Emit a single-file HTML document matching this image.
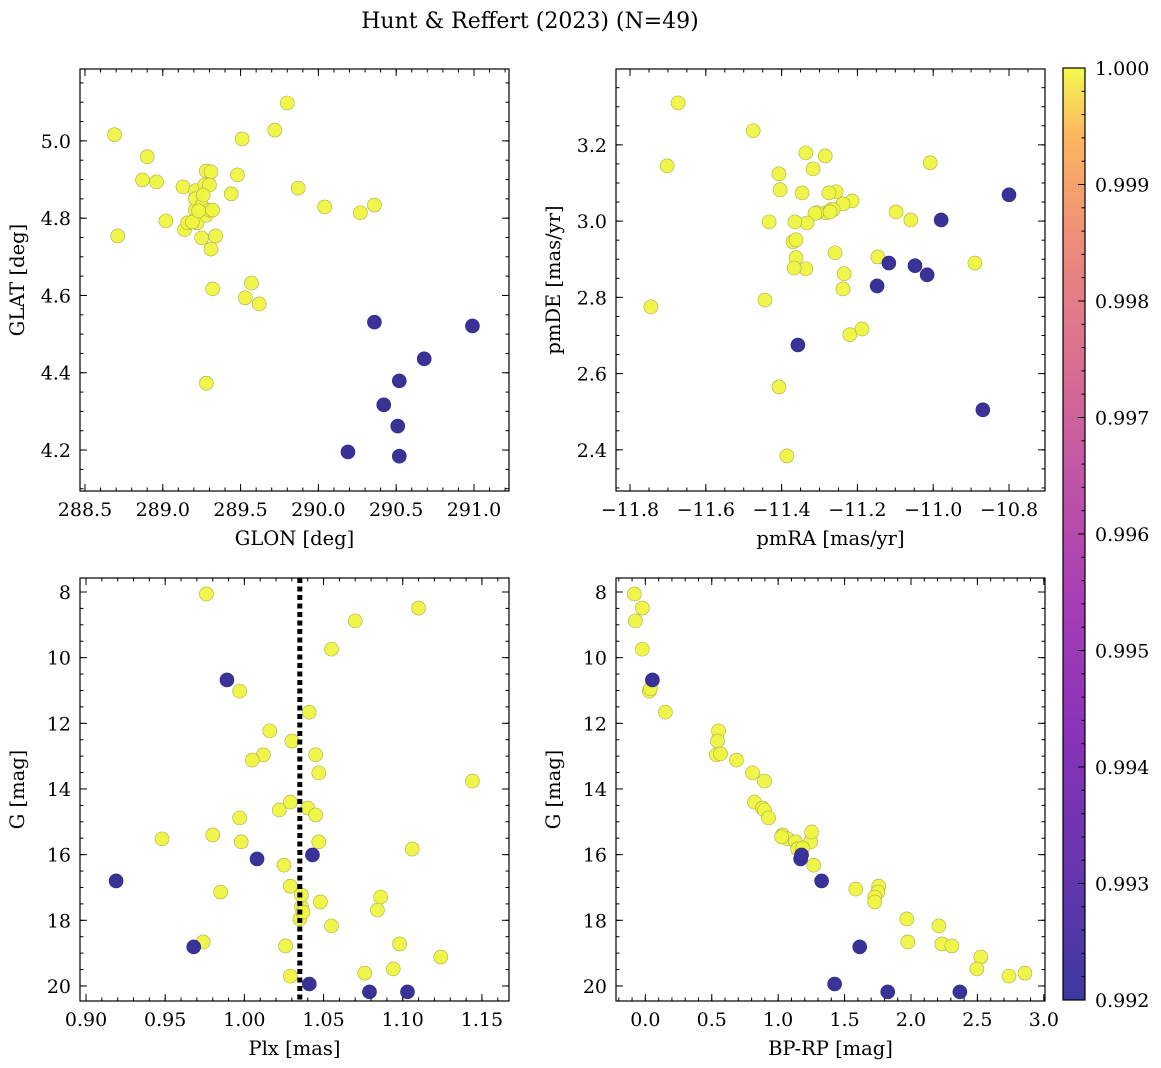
<!DOCTYPE html>
<html><head><meta charset="utf-8"><style>
html,body{margin:0;padding:0;background:#fff;}
svg{display:block;font-family:"DejaVu Serif","Liberation Serif",serif;}
</style></head><body>
<svg id="fig" width="1161" height="1068" viewBox="0 0 1161 1068" xmlns="http://www.w3.org/2000/svg">
<defs>
<linearGradient id="plasma" x1="0" y1="1" x2="0" y2="0">
<stop offset="0" stop-color="#0d0887"/><stop offset="0.14" stop-color="#41049d"/><stop offset="0.28" stop-color="#6a00a8"/><stop offset="0.42" stop-color="#8f0da4"/><stop offset="0.56" stop-color="#b12a90"/><stop offset="0.67" stop-color="#cc4778"/><stop offset="0.78" stop-color="#e16462"/><stop offset="0.86" stop-color="#f2844b"/><stop offset="0.93" stop-color="#fca636"/><stop offset="1" stop-color="#f0f921"/>
</linearGradient>
</defs>
<text x="530" y="28" font-size="22" text-anchor="middle">Hunt &amp; Reffert (2023) (N=49)</text>
</svg>
<script>
// ---- Data ----
const glonMember = [288.69,288.90,288.87,288.96,289.13,289.21,289.28,289.31,289.27,289.30,289.48,289.44,289.02,289.14,289.16,289.21,289.21,289.22,289.25,289.28,289.30,289.25,289.31,289.34,288.71,289.80,289.72,289.51,289.87,290.04,290.27,290.36,289.57,289.53,289.62,289.32,289.28,289.19,289.26,289.32,289.23];
const glatMember = [5.016,4.959,4.899,4.894,4.881,4.871,4.922,4.920,4.886,4.886,4.912,4.863,4.793,4.770,4.788,4.821,4.850,4.788,4.832,4.808,4.821,4.749,4.720,4.754,4.754,5.098,5.028,5.005,4.878,4.829,4.814,4.834,4.632,4.594,4.578,4.617,4.373,4.790,4.860,4.821,4.819];
const glonLow = [290.36,290.99,290.68,290.52,290.42,290.51,290.19,290.52];
const glatLow = [4.531,4.521,4.436,4.379,4.317,4.262,4.195,4.184];

const pmraMember = [-11.673,-11.702,-11.475,-11.407,-11.404,-11.433,-11.336,-11.317,-11.346,-11.285,-11.256,-11.283,-11.307,-11.312,-11.333,-11.365,-11.370,-11.362,-11.336,-11.275,-11.270,-11.214,-11.238,-11.259,-11.235,-11.238,-11.146,-11.098,-11.059,-11.008,-10.890,-11.745,-11.444,-11.407,-11.386,-11.220,-11.188,-11.367,-11.264,-11.272,-11.362];
const pmdeMember = [3.310,3.145,3.237,3.124,3.082,2.998,3.179,3.137,3.074,3.171,3.077,3.022,3.022,3.020,2.995,2.998,2.946,2.904,2.875,3.074,3.030,3.053,3.045,2.917,2.862,2.822,2.906,3.024,3.003,3.153,2.890,2.775,2.793,2.565,2.384,2.702,2.717,2.877,3.030,3.024,2.951];
const pmraLow = [-10.800,-10.979,-11.117,-11.048,-11.016,-11.148,-11.357,-10.869];
const pmdeLow = [3.069,3.003,2.890,2.883,2.859,2.830,2.675,2.505];

const plxMember = [0.976,1.110,1.070,1.055,0.997,1.041,1.016,1.030,1.012,1.005,1.045,1.047,1.144,1.029,1.040,1.022,0.997,1.045,0.998,0.980,0.948,1.047,1.106,1.025,1.029,0.985,1.086,1.048,1.036,1.035,1.055,1.084,0.974,1.098,1.026,1.124,1.094,1.076,1.029,1.036,1.037];
const gPlxMember = [8.06,8.49,8.88,9.74,11.02,11.66,12.23,12.54,12.96,13.12,12.96,13.51,13.76,14.40,14.58,14.64,14.88,14.79,15.61,15.40,15.52,15.61,15.83,16.32,16.96,17.14,17.29,17.44,17.59,17.96,18.17,17.69,18.66,18.72,18.78,19.12,19.48,19.61,19.70,17.23,17.75];
const plxLow = [0.989,1.008,1.043,0.919,0.968,1.041,1.079,1.103];
const gPlxLow = [10.68,16.13,16.01,16.80,18.81,19.94,20.18,20.18];
const plxLine = 1.035;

const bprpMember = [-0.083,-0.023,-0.075,-0.023,0.030,0.038,0.151,0.551,0.543,0.535,0.566,0.686,0.807,0.897,0.822,0.882,0.897,0.928,1.033,1.071,1.131,1.244,1.252,1.146,1.267,1.584,1.757,1.750,1.727,1.727,1.968,2.210,1.976,2.232,2.308,2.526,2.496,2.738,2.858,1.184,1.026];
const gCmdMember = [8.06,8.49,8.88,9.74,11.02,10.95,11.66,12.23,12.54,12.96,12.93,13.12,13.51,13.76,14.40,14.58,14.64,14.88,15.40,15.52,15.61,15.61,15.31,15.83,16.32,17.05,16.96,17.14,17.29,17.44,17.96,18.17,18.66,18.72,18.78,19.12,19.48,19.70,19.61,15.80,15.46];
const bprpLow = [0.053,1.169,1.176,1.327,1.614,1.425,1.825,2.368];
const gCmdLow = [10.68,16.13,16.01,16.80,18.81,19.94,20.18,20.18];

const xTicks1 = [288.5,289.0,289.5,290.0,290.5,291.0];
const yTicks1 = [4.2,4.4,4.6,4.8,5.0];
const xTicks2 = [-11.8,-11.6,-11.4,-11.2,-11.0,-10.8];
const yTicks2 = [2.4,2.6,2.8,3.0,3.2];
const xTicks3 = [0.90,0.95,1.00,1.05,1.10,1.15];
const gTicks = [8,10,12,14,16,18,20];
const xTicks4 = [0.0,0.5,1.0,1.5,2.0,2.5,3.0];
const cbTicks = [0.992,0.993,0.994,0.995,0.996,0.997,0.998,0.999,1.000];

// ---- Drawing ----
const NS = "http://www.w3.org/2000/svg";
const svg = document.getElementById('fig');
function mk(tag, attrs, parent){const e=document.createElementNS(NS,tag);for(const k in attrs)e.setAttribute(k,attrs[k]);(parent||svg).appendChild(e);return e;}
const YEL="#eef53f", BLU="#3a3297";
const TFS=19, LFS=19.5;

function panel(o){
  const g=mk('g',{});
  
  
  const sx=v=>o.x0+(v-o.xmin)/(o.xmax-o.xmin)*(o.x1-o.x0);
  const sy=o.yinv ? (v=>o.y0+(v-o.ymin)/(o.ymax-o.ymin)*(o.y1-o.y0)) : (v=>o.y1-(v-o.ymin)/(o.ymax-o.ymin)*(o.y1-o.y0));
  const tg=mk('g',{stroke:'#000','stroke-width':1},g);
  
  
  const eps=1e-9;
  for(let v=Math.ceil(o.xmin/o.xminor)*o.xminor; v<=o.xmax+eps; v+=o.xminor){const px=sx(v);mk('line',{x1:px,x2:px,y1:o.y1,y2:o.y1-3.5},tg);mk('line',{x1:px,x2:px,y1:o.y0,y2:o.y0+3.5},tg);}
  const ylo=Math.min(o.ymin,o.ymax), yhi=Math.max(o.ymin,o.ymax);
  for(let v=Math.ceil(ylo/o.yminor)*o.yminor; v<=yhi+eps; v+=o.yminor){const py=sy(v);mk('line',{x1:o.x0,x2:o.x0+3.5,y1:py,y2:py},tg);mk('line',{x1:o.x1,x2:o.x1-3.5,y1:py,y2:py},tg);}
  o.xticks.forEach(v=>{const px=sx(v);mk('line',{x1:px,x2:px,y1:o.y1,y2:o.y1-7},tg);mk('line',{x1:px,x2:px,y1:o.y0,y2:o.y0+7},tg);
    const t=mk('text',{x:px,y:o.y1+25,'font-size':TFS,'text-anchor':'middle'},g);t.textContent=o.xfmt(v).replace('-','\u2212');
    
    });
  o.yticks.forEach(v=>{const py=sy(v);mk('line',{x1:o.x0,x2:o.x0+7,y1:py,y2:py},tg);mk('line',{x1:o.x1,x2:o.x1-7,y1:py,y2:py},tg);
    const t=mk('text',{x:o.x0-9,y:py+7,'font-size':TFS,'text-anchor':'end'},g);t.textContent=o.yfmt(v);
    
    });
  const pg=mk('g',{},g);
  
  
  o.mx.forEach((v,i)=>{const c=mk('circle',{cx:sx(v),cy:sy(o.my[i]),r:7,fill:YEL,stroke:'#a8ab55','stroke-width':0.6,'fill-opacity':0.95},pg);
    
    });
  o.lx.forEach((v,i)=>{const c=mk('circle',{cx:sx(v),cy:sy(o.ly[i]),r:7,fill:BLU,stroke:'#2d2680','stroke-width':0.6},pg);
    
    });
  if(o.vline!==undefined){const px=sx(o.vline);const l=mk('line',{x1:px,x2:px,y1:o.y0,y2:o.y1,stroke:'#000','stroke-width':5,'stroke-dasharray':'5,3.5'},g);
    
    }
  const fr=mk('rect',{x:o.x0,y:o.y0,width:o.x1-o.x0,height:o.y1-o.y0,fill:'none',stroke:'#000','stroke-width':1.2},g);
  
  
  const xl=mk('text',{x:(o.x0+o.x1)/2,y:o.y1+54,'font-size':LFS,'text-anchor':'middle'},g);xl.textContent=o.xlabel;
  
  
  const yx=o.x0-56, yy=(o.y0+o.y1)/2;
  const yl=mk('text',{x:yx,y:yy,'font-size':LFS,'text-anchor':'middle',transform:`rotate(-90 ${yx} ${yy})`},g);yl.textContent=o.ylabel;
  
  
}
panel({name:'glon-glat-panel',x0:80,x1:509,y0:69,y1:491,xmin:288.468,xmax:291.225,ymin:4.094,ymax:5.186,xminor:0.1,yminor:0.05,
  xticks:xTicks1,yticks:yTicks1,xfmt:v=>v.toFixed(1),yfmt:v=>v.toFixed(1),mx:glonMember,my:glatMember,lx:glonLow,ly:glatLow,xlabel:'GLON [deg]',ylabel:'GLAT [deg]'});
panel({name:'proper-motion-panel',x0:616,x1:1045,y0:69,y1:491,xmin:-11.837,xmax:-10.705,ymin:2.292,ymax:3.399,xminor:0.05,yminor:0.05,
  xticks:xTicks2,yticks:yTicks2,xfmt:v=>v.toFixed(1),yfmt:v=>v.toFixed(1),mx:pmraMember,my:pmdeMember,lx:pmraLow,ly:pmdeLow,xlabel:'pmRA [mas/yr]',ylabel:'pmDE [mas/yr]'});
panel({name:'parallax-mag-panel',x0:80,x1:509,y0:578,y1:1001,xmin:0.8962,xmax:1.1671,ymin:7.574,ymax:20.458,yinv:true,xminor:0.01,yminor:0.5,
  xticks:xTicks3,yticks:gTicks,xfmt:v=>v.toFixed(2),yfmt:v=>String(v),mx:plxMember,my:gPlxMember,lx:plxLow,ly:gPlxLow,vline:plxLine,xlabel:'Plx [mas]',ylabel:'G [mag]'});
panel({name:'cmd-panel',x0:616,x1:1045,y0:578,y1:1001,xmin:-0.221,xmax:3.009,ymin:7.574,ymax:20.458,yinv:true,xminor:0.1,yminor:0.5,
  xticks:xTicks4,yticks:gTicks,xfmt:v=>v.toFixed(1),yfmt:v=>String(v),mx:bprpMember,my:gCmdMember,lx:bprpLow,ly:gCmdLow,xlabel:'BP-RP [mag]',ylabel:'G [mag]'});

// colorbar
const cb=mk('g',{});


const cx0=1063,cx1=1085,cy0=68,cy1=1000,cmin=0.992,cmax=1.0;
const cy=v=>cy1-(v-cmin)/(cmax-cmin)*(cy1-cy0);
mk('rect',{x:cx0,y:cy0,width:cx1-cx0,height:cy1-cy0,fill:'url(#plasma)','fill-opacity':0.8},cb);
for(let k=0;k<=40;k++){const py=cy(cmin+k*0.0002);mk('line',{x1:cx1,x2:cx1-3.5,y1:py,y2:py,stroke:'#000'},cb);}
cbTicks.forEach(v=>{const py=cy(v);mk('line',{x1:cx1,x2:cx1-7,y1:py,y2:py,stroke:'#000'},cb);
  const t=mk('text',{x:cx1+10,y:py+7,'font-size':TFS},cb);t.textContent=v.toFixed(3);
  
  });
mk('rect',{x:cx0,y:cy0,width:cx1-cx0,height:cy1-cy0,fill:'none',stroke:'#000','stroke-width':1.2},cb);
</script>
</body></html>
